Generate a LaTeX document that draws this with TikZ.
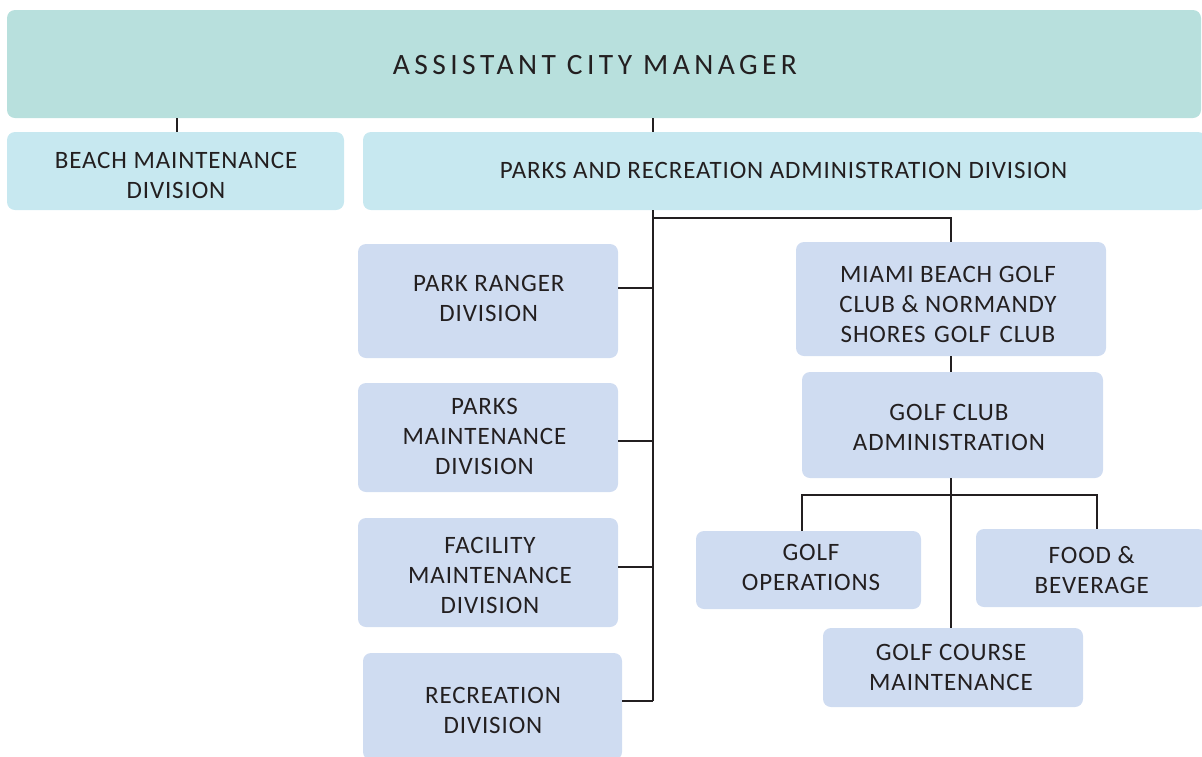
\documentclass[tikz,border=0pt]{standalone}
\usepackage{fontspec}
\setmainfont{Carlito}[LetterSpace=3.5]
\newfontfamily\titlefont{Carlito}[LetterSpace=15]
\definecolor{ink}{HTML}{231F20}
\definecolor{topfill}{HTML}{B8E0DD}
\definecolor{divfill}{HTML}{C7E8F0}
\definecolor{unitfill}{HTML}{CFDCF1}
\begin{document}
\begin{tikzpicture}[x=1pt,y=-1pt,
  box/.style={draw=none,rounded corners=8pt,inner sep=0pt},
  headbox/.style={box,fill=topfill},
  divbox/.style={box,fill=divfill},
  unitbox/.style={box,fill=unitfill},
  txt/.style={inner sep=0pt,align=center,text=ink,font=\fontsize{25}{30}\selectfont},
  titletxt/.style={txt,font=\titlefont\fontsize{29.5}{34}\selectfont},
  link/.style={draw=ink,line width=2pt}]
\useasboundingbox (0,0) rectangle (1202,756);

% boxes: top level and divisions
\node[headbox,minimum width=1194pt,minimum height=108pt] (acm) at (604,64) {};
\node[divbox,minimum width=337pt,minimum height=78pt] (beach) at (175.5,171) {};
\node[divbox,minimum width=843pt,minimum height=78pt] (pra) at (784.5,171) {};

% boxes: parks units (left column)
\node[unitbox,minimum width=260pt,minimum height=114pt] (ranger) at (488,301) {};
\node[unitbox,minimum width=260pt,minimum height=109pt] (pmaint) at (488,437.5) {};
\node[unitbox,minimum width=260pt,minimum height=109pt] (fmaint) at (488,572.5) {};
\node[unitbox,minimum width=259pt,minimum height=107pt] (recr) at (492.5,706.5) {};

% boxes: golf units (right column)
\node[unitbox,minimum width=310pt,minimum height=114pt] (miami) at (951,299) {};
\node[unitbox,minimum width=301pt,minimum height=106pt] (gca) at (952.5,425) {};
\node[unitbox,minimum width=225pt,minimum height=78pt] (gops) at (808.5,570) {};
\node[unitbox,minimum width=230pt,minimum height=78pt] (food) at (1091,568) {};
\node[unitbox,minimum width=260pt,minimum height=79pt] (gcm) at (953,667.5) {};

% labels
\node[titletxt] (acmT) at (595,65) {ASSISTANT CITY MANAGER};
\node[txt] (beachT) at (176,175) {BEACH MAINTENANCE\\DIVISION};
\node[txt] (praT) at (783.5,170.5) {PARKS AND RECREATION ADMINISTRATION DIVISION};
\node[txt] (rangerT) at (488.8,298.3) {PARK RANGER\\DIVISION};
\node[txt] (pmaintT) at (484.5,436.7) {PARKS\\MAINTENANCE\\DIVISION};
\node[txt] (fmaintT) at (490,575) {FACILITY\\MAINTENANCE\\DIVISION};
\node[txt] (recrT) at (493,710) {RECREATION\\DIVISION};
\node[txt] (miamiT) at (948,304) {MIAMI BEACH GOLF\\CLUB \& NORMANDY\\SHORES\hspace{2pt} GOLF\hspace{2pt} CLUB};
\node[txt] (gcaT) at (949,427) {GOLF CLUB\\ADMINISTRATION};
\node[txt] (gopsT) at (811,567.5) {GOLF\\OPERATIONS};
\node[txt] (foodT) at (1091.7,570) {FOOD \&\\BEVERAGE};
\node[txt] (gcmT) at (951,667.5) {GOLF COURSE\\MAINTENANCE};

% junction points
\coordinate (trunk) at (653,218);
\coordinate (gbar) at (951,495);

% connectors
\draw[link] ([xshift=1pt]beach.north) -- ([xshift=1pt]beach.north |- acm.south);
\draw[link] (acm.south -| trunk) -- (pra.north -| trunk);
\draw[link] (pra.south -| trunk) -- ([yshift=5.5pt]recr.east -| trunk);
\draw[link] ([yshift=13pt]ranger.east) -- ([yshift=13pt]ranger.east -| trunk);
\draw[link] ([yshift=-3.5pt]pmaint.east) -- ([yshift=-3.5pt]pmaint.east -| trunk);
\draw[link] ([yshift=5.5pt]fmaint.east) -- ([yshift=5.5pt]fmaint.east -| trunk);
\draw[link] ([yshift=5.5pt]recr.east) -- ([yshift=5.5pt]recr.east -| trunk);
\draw[link] (trunk) -| (miami.north);
\draw[link] (miami.south) -- (miami.south |- gca.north);
\draw[link] (gca.south -| miami.south) -- (gcm.north -| miami.south);
\draw[link] ([xshift=-6.5pt]gops.north) |- (gbar) -| ([xshift=6pt]food.north);
\end{tikzpicture}
\end{document}
